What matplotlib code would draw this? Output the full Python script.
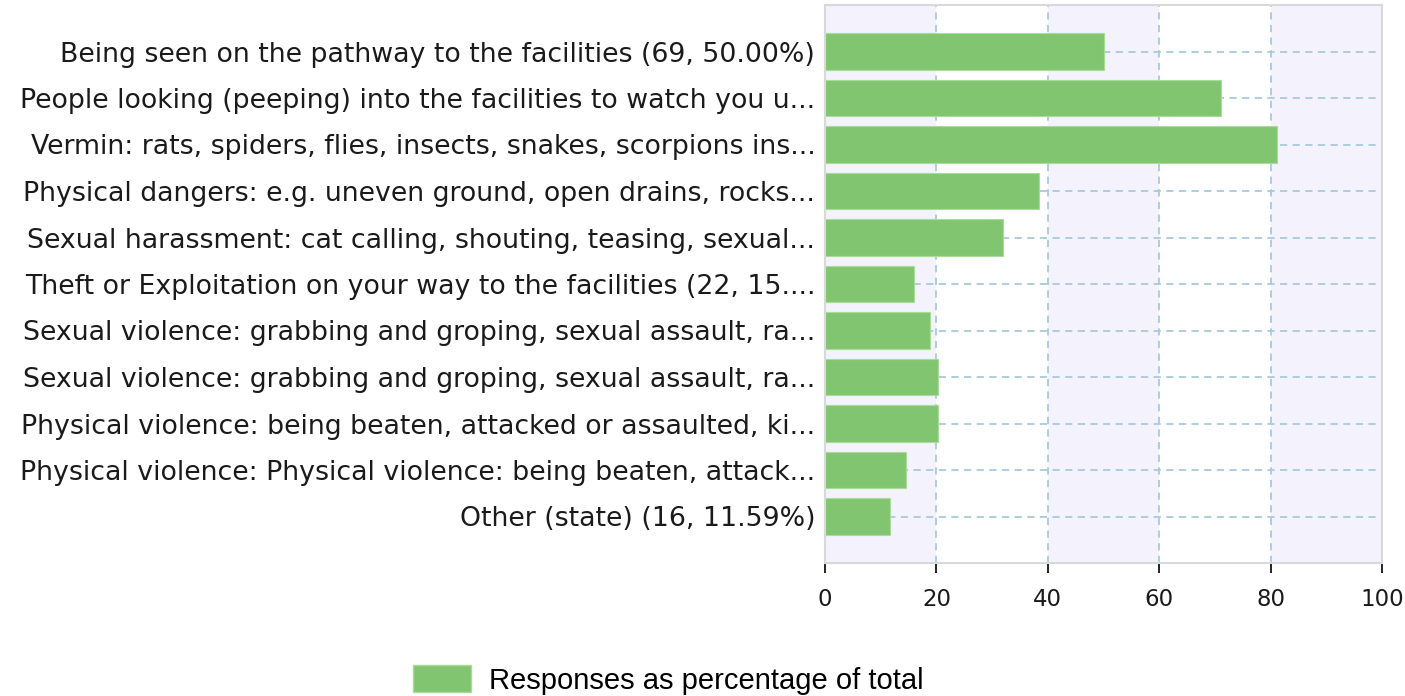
import matplotlib
matplotlib.use("Agg")
import matplotlib.pyplot as plt
from matplotlib.patches import Patch

categories = [
    "Being seen on the pathway to the facilities (69, 50.00%)",
    "People looking (peeping) into the facilities to watch you u...",
    "Vermin: rats, spiders, flies, insects, snakes, scorpions ins...",
    "Physical dangers: e.g. uneven ground, open drains, rocks...",
    "Sexual harassment: cat calling, shouting, teasing, sexual...",
    "Theft or Exploitation on your way to the facilities (22, 15....",
    "Sexual violence: grabbing and groping, sexual assault, ra...",
    "Sexual violence: grabbing and groping, sexual assault, ra...",
    "Physical violence: being beaten, attacked or assaulted, ki...",
    "Physical violence: Physical violence: being beaten, attack...",
    "Other (state) (16, 11.59%)",
]
values = [50.00, 71.01, 81.16, 38.41, 31.88, 15.94, 18.84, 20.29, 20.29, 14.49, 11.59]
xticks = [0, 20, 40, 60, 80, 100]
legend_label = "Responses as percentage of total"

bar_color = "#82c570"
band_color = "#f3f2fd"
grid_color = "#a9c9dd"

W, H = 1405, 696
fig = plt.figure(figsize=(W/100, H/100), dpi=100)
ax = fig.add_axes([825/W, 1 - 563/H, (1382-825)/W, (563-5)/H])

n = len(categories)
ypos = list(range(n))

for i in range(0, len(xticks) - 1):
    if i % 2 == 0:
        ax.axvspan(xticks[i], xticks[i+1], color=band_color, zorder=0, lw=0)

for x in xticks[1:-1]:
    ax.axvline(x, color=grid_color, ls=(0, (4, 3)), lw=1.3, zorder=1)
for y in ypos:
    ax.axhline(y, color=grid_color, ls=(0, (4, 3)), lw=1.3, zorder=1)

ax.barh(ypos, values, height=0.78, color=bar_color, edgecolor="#a8dc9a", lw=0.8, zorder=2)

lab_font = {"family": "DejaVu Sans", "size": 19.3}
tick_font = {"family": "DejaVu Sans", "size": 16.5}
ax.set_xlim(0, 100)
ax.set_ylim(n, -1)
ax.set_yticks(ypos)
ax.set_yticklabels(categories, fontdict=lab_font, color="#1a1a1a")
ax.tick_params(axis="y", length=0, pad=7)
ax.set_xticks(xticks)
ax.set_xticklabels([str(t) for t in xticks], fontdict=tick_font, color="#1a1a1a")
ax.tick_params(axis="x", length=7.2, width=1.4, color="#222222", pad=10.5)
for s in ax.spines.values():
    s.set_color("#d9d9d9")
    s.set_linewidth(1.5)

handle = Patch(facecolor=bar_color, edgecolor="#a8dc9a")
fig.legend([handle], [legend_label], loc="center", bbox_to_anchor=(668/W, 1 - 680/H),
           frameon=False, prop={"family": "Liberation Sans", "size": 21},
           handlelength=2.0, handleheight=1.0, handletextpad=0.6)

fig.savefig("out.png", dpi=100, facecolor="white")
